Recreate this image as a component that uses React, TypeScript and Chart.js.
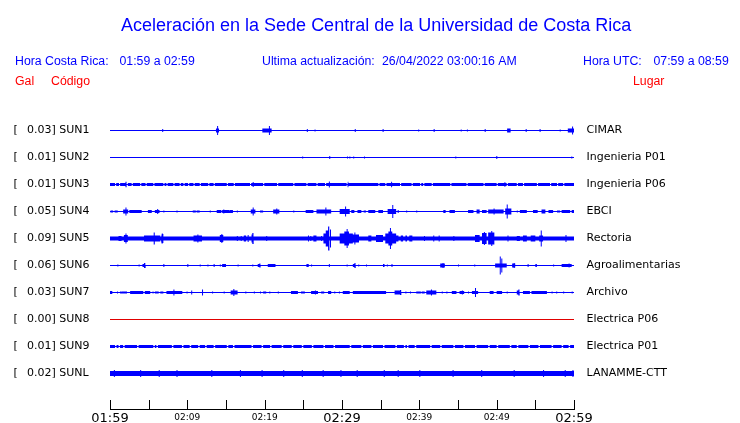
import { useEffect, useRef } from 'react';
import { Chart, registerables } from 'chart.js';

Chart.register(...registerables);

// ---------- data ----------
const stations = ['SUN1', 'SUN2', 'SUN3', 'SUN4', 'SUN5', 'SUN6', 'SUN7', 'SUN8', 'SUN9', 'SUNL'];
const peakGal = [0.03, 0.01, 0.01, 0.05, 0.09, 0.06, 0.03, 0.0, 0.01, 0.02];
const places = ['CIMAR', 'Ingenieria P01', 'Ingenieria P06', 'EBCI', 'Rectoria', 'Agroalimentarias', 'Archivo', 'Electrica P06', 'Electrica P01', 'LANAMME-CTT'];
const traceColors = ['#0000ff', '#0000ff', '#0000ff', '#0000ff', '#0000ff', '#0000ff', '#0000ff', '#e00000', '#0000ff', '#0000ff'];
// background half-amplitude of each trace (envelope units)
const baseAmp = [0.5, 0.5, 1.5, 0.5, 2, 0.5, 0.5, 0.5, 1.5, 2.5];

// envelope events: [minute since 01:59, duration (min), half-amplitude]
const sun1 = [[6.75,0.13,1.5],[13.7,0.4,2],[13.85,0.13,4.5],[19.7,1.2,2],[20.55,0.13,4.5],[25.45,0.13,1.5],[26.45,0.13,1],[31.65,0.13,1.5],[35.25,0.13,1.5],[39.85,0.13,1],[41.85,0.13,1.5],[45.35,0.13,1],[46.15,0.13,1],[48.45,0.13,1.5],[51.35,0.45,2],[53.75,0.13,1.5],[55.55,0.13,1.5],[58.15,0.13,1],[59.2,0.8,2],[59.75,0.13,4]];
const sun2 = [[24.85,0.13,1],[28.35,0.13,1.5],[30.65,0.13,1],[30.95,0.13,1],[31.45,0.13,1],[32.85,0.13,1],[44.65,0.13,1],[49.95,0.13,1.5],[59.65,0.13,1]];
const sun3Gaps = [0.65,1.16,2.16,2.8,3.9,4.6,5.6,6.9,7.3,8.2,9.0,9.5,10.1,10.8,11.6,12.7,13.4,15.1,16.0,18.1,19.8,21.6,23.7,25.4,26.7,27.8,30.6,34.7,35.6,37.5,39.0,40.1,40.5,41.6,44.0,46.1,48.3,50.0,51.3,52.6,53.4,55.2,56.9,57.8,58.6];
const sun3 = [[2.0,0.13,2.8],[18.45,0.13,2.5],[28.3,0.13,3],[30.7,0.13,2.7],[36.35,0.13,2.7],[51.0,0.13,2.2]];
const sun4 = [[0.1,0.3,1],[0.6,0.4,1],[1.7,0.65,2],[2.0,0.13,4],[2.5,1.6,1.5],[4.9,0.5,1.5],[5.8,0.6,1.5],[6.1,0.13,2.5],[6.9,0.13,1],[8.6,0.13,1],[10.7,0.4,1],[11.2,0.4,1],[12.9,0.13,1],[13.8,0.6,1.5],[14.5,0.9,1.5],[15.5,0.4,1.5],[14.65,0.13,2],[16.4,0.13,1],[18.2,0.6,2],[18.45,0.13,4],[19.4,0.4,1],[21.1,0.8,2],[21.5,0.13,3],[23.7,0.13,1],[25.3,1.0,1.5],[26.7,1.9,2],[27.85,0.13,4],[29.7,1.3,2.5],[30.4,0.13,5],[31.2,0.4,1.5],[32.0,0.5,1.5],[32.8,0.3,1],[33.4,0.9,1.5],[34.7,0.6,1.5],[35.9,1.1,2.5],[36.5,0.13,6.5],[37.2,0.13,1.5],[38.3,0.13,1],[39.6,0.13,1],[43.1,0.3,1.5],[43.9,0.7,1.5],[46.3,0.7,1.5],[47.4,0.4,2],[48.1,0.6,1.5],[48.9,2.0,2],[49.6,0.13,3],[51.1,0.8,3],[51.3,0.13,7],[52.6,0.13,1],[53.0,0.9,1.5],[54.7,0.6,1.5],[55.8,0.5,2],[56.7,0.6,1.5],[57.8,0.4,1],[58.4,1.1,1.5],[59.7,0.3,1.5]];
const sun5 = [[1.1,0.4,2.5],[1.8,0.5,3.5],[2.0,0.13,5],[4.4,1.4,3],[5.8,0.7,3],[5.65,0.13,6],[6.6,0.3,4.5],[6.7,0.13,5],[10.8,1.1,3],[11.3,0.13,4],[14.2,0.45,3.5],[14.4,0.13,4.5],[16.4,0.13,2.5],[16.9,0.13,2.5],[17.3,0.3,3],[17.8,0.13,3.5],[18.3,0.3,4],[18.4,0.13,5.5],[20.2,0.13,2.5],[25.6,0.13,3],[25.9,0.13,2.5],[26.3,0.4,3],[27.3,0.13,2.5],[27.6,0.8,5],[27.9,0.5,8],[28.2,0.13,12],[28.45,0.13,9],[29.7,1.7,5],[31.4,0.8,4],[30.3,0.6,7],[30.6,0.13,9.5],[31.6,0.13,6],[33.4,0.4,3],[34.4,0.9,3.5],[35.6,1.4,5],[36.0,0.5,7],[36.2,0.13,10.5],[37.0,0.3,3],[37.6,0.3,3],[38.2,0.2,3],[38.7,0.4,3],[40.6,0.13,2.5],[41.8,0.13,3],[42.5,0.13,3],[44.4,0.13,2.5],[47.2,0.6,3.5],[48.1,0.6,5.5],[48.35,0.13,6.5],[48.9,0.8,6],[49.3,0.13,7.5],[51.4,0.13,3],[52.6,0.4,2.5],[53.4,0.5,3],[54.4,0.6,3],[55.5,0.5,3],[55.7,0.13,8],[58.9,0.13,3.5]];
const sun6 = [[0.95,0.13,1],[3.7,0.13,1],[4.2,0.45,1.5],[4.4,0.13,2.5],[6.9,0.13,1.5],[10.0,0.13,1.5],[11.6,0.13,1],[12.6,0.13,1],[13.4,0.13,1.5],[14.2,0.13,1],[14.5,0.5,1.5],[16.5,0.13,1],[18.4,0.13,1],[19.1,0.4,1.5],[19.3,0.13,2],[20.4,1.0,1.5],[25.4,0.3,1.5],[26.0,0.13,1],[28.3,0.13,1.5],[30.6,0.13,1],[31.4,0.4,1.5],[31.6,0.13,2.5],[32.1,0.13,1],[33.1,0.13,1],[35.3,0.2,1.5],[35.8,0.13,1],[36.4,0.13,1.5],[42.7,0.6,2],[43.0,0.13,2.5],[45.0,0.13,1],[47.1,0.13,1],[49.8,1.5,2],[50.4,0.13,9],[50.6,0.13,7],[52.0,0.4,2],[52.2,0.13,2.5],[54.0,0.13,1.5],[55.0,0.2,1.5],[57.3,0.13,1],[58.4,1.3,1.5],[59.3,0.13,2]];
const sun7 = [[0,0.3,1.5],[0.9,0.13,1],[1.3,0.13,1],[1.5,0.7,1],[2.6,1.7,1.5],[4.5,0.7,1.5],[5.5,0.13,1],[5.8,0.5,1],[6.5,0.4,1],[7.3,0.7,1.5],[8.0,1.35,1.5],[8.2,0.13,3],[9.9,0.13,1],[10.5,0.13,2],[11.9,0.13,3],[13.2,0.13,1],[14.7,0.13,1],[15.6,0.9,2],[15.95,0.13,3.5],[17.5,0.13,1],[18.6,0.13,1],[19.4,0.13,1],[19.8,0.4,1],[20.6,0.13,1],[21.7,0.13,1],[23.4,0.9,1.5],[24.7,0.5,1],[26.0,0.9,1.5],[26.5,0.13,2],[27.3,0.4,1],[28.2,0.4,1.5],[29.0,0.13,1],[29.6,0.13,1],[30.1,0.9,1.5],[31.4,4.3,1.5],[36.8,0.9,2],[37.5,0.13,2.5],[38.2,0.13,1],[38.8,0.13,1],[39.6,0.6,1],[40.3,0.4,1],[40.9,1.3,2],[41.5,0.13,3],[42.9,0.13,1],[43.5,0.13,1],[44.2,0.6,1.5],[45.2,0.6,1.5],[45.5,0.13,2],[46.3,0.13,1],[46.8,0.8,1.5],[47.2,0.13,4.5],[49.1,0.5,1.5],[50.0,0.7,1.5],[51.3,0.13,1],[52.6,0.4,2],[52.8,0.13,3],[53.4,0.9,1.5],[54.5,2.0,1.5],[57.1,0.13,1],[57.7,0.13,1],[58.6,0.13,1],[59.7,0.13,1]];
const sun8 = [];
const sun9Gaps = [0.65,1.1,1.7,3.5,5.6,6.0,8.0,9.3,10.3,11.4,12.3,13.4,15.1,15.9,18.3,19.6,20.7,22.2,23.5,24.8,26.1,27.6,28.9,31.0,32.5,33.8,35.3,36.9,38.0,38.4,39.4,41.4,42.7,44.4,45.7,47.2,48.9,50.0,51.7,52.6,54.1,55.4,57.1,58.4,59.3];
const sunlSpikes = [0.5,3.9,6.3,8.6,13.1,16.8,19.6,22.4,24.8,27.5,29.8,31.9,35.4,37.2,40.0,44.3,48.0,52.2,56.0,58.8,59.8];

const timeTicks = [0, 5, 10, 15, 20, 25, 30, 35, 40, 45, 50, 55, 60];
const timeLabels = ['01:59', '', '02:09', '', '02:19', '', '02:29', '', '02:39', '', '02:49', '', '02:59'];
const majorLabels = ['01:59', '02:29', '02:59'];

const titleText = 'Aceleración en la Sede Central de la Universidad de Costa Rica';

// ---------- helpers ----------
const traceEvents = [
  sun1,
  sun2,
  [...sun3Gaps.map((t) => [t, 0.15, 0.5]), ...sun3],
  sun4,
  sun5,
  sun6,
  sun7,
  sun8,
  sun9Gaps.map((t) => [t, 0.2, 0.5]),
  sunlSpikes.map((t) => [t, 0.13, 3.5]),
];

function envelope(base: number, events: number[][], t0 = 0, t1 = 60) {
  const cuts = new Set<number>([t0, t1]);
  events.forEach(([t, d]) => {
    cuts.add(Math.max(t0, Math.min(t1, t)));
    cuts.add(Math.max(t0, Math.min(t1, t + d)));
  });
  const xs = [...cuts].sort((a, b) => a - b);
  const pts: number[][] = [];
  for (let k = 0; k < xs.length - 1; k++) {
    const a = xs[k];
    const b = xs[k + 1];
    if (b - a < 1e-9) continue;
    const m = (a + b) / 2;
    let amp = base;
    for (const [t, d, v] of events) if (m >= t && m < t + d) amp = v;
    pts.push([a, amp], [b, amp]);
  }
  return pts;
}

const ROW = 27;
const rowOffset = (i: number) => -(i + 1) * ROW - 0.5;

const BLUE = '#0000ff';
const RED = '#ff0000';

const textPlugin = {
  id: 'seismoText',
  afterDraw(chart: any) {
    const ctx = chart.ctx;
    const xs = chart.scales.x;
    const ys = chart.scales.y;
    const area = chart.chartArea;
    ctx.save();
    ctx.textBaseline = 'alphabetic';
    ctx.textAlign = 'left';
    // title
    ctx.fillStyle = BLUE;
    ctx.font = '18px "Liberation Sans", Arial, sans-serif';
    ctx.fillText(titleText, 121, 30.5);
    ctx.font = '12.3px "Liberation Sans", Arial, sans-serif';
    ctx.fillText('Hora Costa Rica:', 15, 65);
    ctx.fillText('01:59 a 02:59', 119.5, 65);
    ctx.fillText('Ultima actualización:', 262, 65);
    ctx.fillText('26/04/2022 03:00:16 AM', 382, 65);
    ctx.fillText('Hora UTC:', 583, 65);
    ctx.fillText('07:59 a 08:59', 653.5, 65);
    ctx.fillStyle = RED;
    ctx.fillText('Gal', 15, 85);
    ctx.fillText('Código', 51, 85);
    ctx.fillText('Lugar', 633, 85);

    // row labels
    ctx.fillStyle = '#000000';
    ctx.font = '11px "DejaVu Sans", sans-serif';
    ctx.textBaseline = 'middle';
    stations.forEach((s, i) => {
      const y = ys.getPixelForValue(rowOffset(i));
      ctx.textAlign = 'left';
      ctx.fillText('[', 13.5, y);
      ctx.fillText(peakGal[i].toFixed(2) + '] ' + s, 27, y);
      ctx.fillText(places[i], 586.5, y);
    });

    // time axis
    const yb = Math.round(area.bottom) + 0.5;
    ctx.strokeStyle = '#000000';
    ctx.lineWidth = 1;
    ctx.beginPath();
    ctx.moveTo(Math.round(xs.getPixelForValue(timeTicks[0])), yb);
    ctx.lineTo(Math.round(xs.getPixelForValue(timeTicks[timeTicks.length - 1])) + 1, yb);
    timeTicks.forEach((t) => {
      const x = Math.round(xs.getPixelForValue(t)) + 0.5;
      ctx.moveTo(x, yb);
      ctx.lineTo(x, yb - 9.5);
    });
    ctx.stroke();
    ctx.textAlign = 'center';
    ctx.textBaseline = 'alphabetic';
    ctx.fillStyle = '#000000';
    timeTicks.forEach((t, k) => {
      const label = timeLabels[k];
      if (!label) return;
      const x = xs.getPixelForValue(t);
      if (majorLabels.includes(label)) {
        ctx.font = '13px "DejaVu Sans", sans-serif';
        ctx.fillText(label, x, 421.5);
      } else {
        ctx.font = '9px "DejaVu Sans", sans-serif';
        ctx.fillText(label, x, 419.5);
      }
    });
    ctx.restore();
  },
};

export default function App() {
  const canvasRef = useRef<HTMLCanvasElement | null>(null);

  useEffect(() => {
    document.body.style.margin = '0';
    const canvas = canvasRef.current;
    if (!canvas) return;
    const datasets: any[] = [];
    stations.forEach((s, i) => {
      const pts = envelope(baseAmp[i], traceEvents[i] as number[][]);
      const off = rowOffset(i);
      const color = traceColors[i];
      datasets.push({
        label: s + ' +',
        data: pts.map(([x, a]) => ({ x, y: off + a })),
        borderWidth: 0,
        borderColor: 'rgba(0,0,0,0)',
        backgroundColor: color,
        pointRadius: 0,
        fill: false,
        tension: 0,
      });
      datasets.push({
        label: s + ' -',
        data: pts.map(([x, a]) => ({ x, y: off - a })),
        borderWidth: 0,
        borderColor: 'rgba(0,0,0,0)',
        backgroundColor: color,
        pointRadius: 0,
        fill: '-1',
        tension: 0,
      });
    });

    const chart = new Chart(canvas, {
      type: 'line',
      data: { datasets },
      options: {
        responsive: false,
        animation: false,
        events: [],
        layout: { padding: { left: 110, right: 166, top: 103, bottom: 14 } },
        scales: {
          x: { type: 'linear', min: 0, max: 60, display: false },
          y: { type: 'linear', min: -306, max: 0, display: false },
        },
        plugins: {
          legend: { display: false },
          tooltip: { enabled: false },
          title: { display: false },
        },
      },
      plugins: [textPlugin],
    });
    return () => chart.destroy();
  }, []);

  return (
    <div style={{ width: 740, height: 423, position: 'relative', background: '#ffffff' }}>
      <canvas ref={canvasRef} width={740} height={423} style={{ display: 'block' }} />
    </div>
  );
}
